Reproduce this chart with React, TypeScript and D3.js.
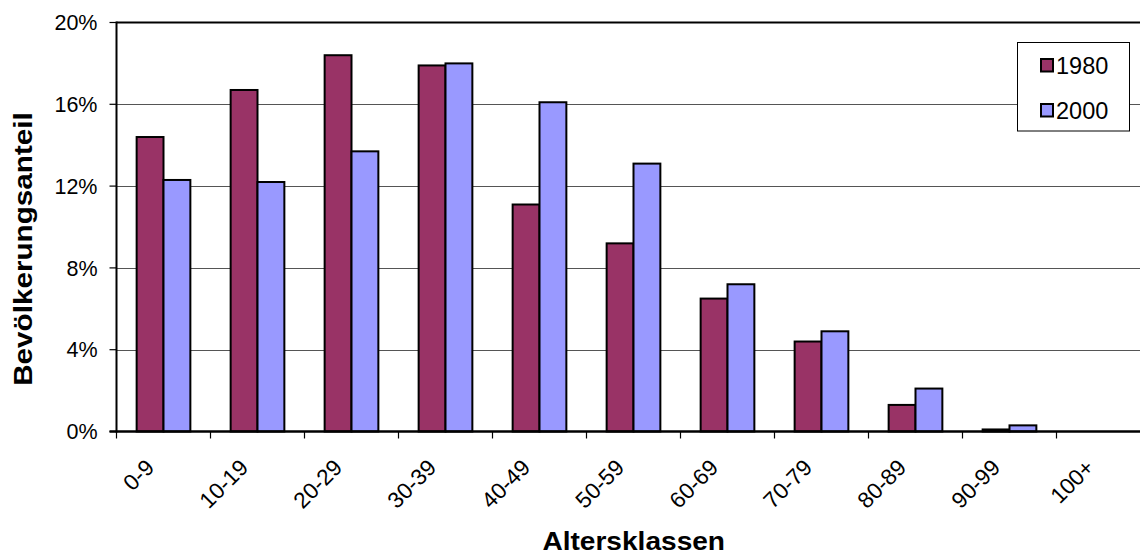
import React from "react";
import * as d3 from "d3";

const categories = ["0-9", "10-19", "20-29", "30-39", "40-49", "50-59", "60-69", "70-79", "80-89", "90-99", "100+"];
const series = ["1980", "2000"];
const values1980 = [14.4, 16.7, 18.4, 17.9, 11.1, 9.2, 6.5, 4.4, 1.3, 0.1, 0];
const values2000 = [12.3, 12.2, 13.7, 18.0, 16.1, 13.1, 7.2, 4.9, 2.1, 0.3, 0];
const yTicks = [0, 4, 8, 12, 16, 20];
const colors = ["#993366", "#9999FF"];
const yTitle = "Bevölkerungsanteil";
const xTitle = "Altersklassen";

const W = 1140;
const H = 554;
const left = 116.5;
const right = 1150.5;
const top = 22.5;
const bottom = 431.5;
const FONT = "'Liberation Sans', Arial, sans-serif";

export default function App() {
  const x0 = d3.scaleBand<string>().domain(categories).range([left, right]).padding(0);
  const bw = x0.bandwidth();
  const w = bw / 3.5;
  const x1 = d3.scaleBand<string>().domain(series).range([0.75 * w, 2.75 * w]).padding(0);
  const y = d3.scaleLinear().domain([0, 20]).range([bottom, top]);
  const data = [values1980, values2000];

  return (
    <svg
      width={W}
      height={H}
      style={{ position: "absolute", left: 0, top: 0, background: "#fff" }}
      fontFamily={FONT}
    >
      {/* gridlines */}
      {yTicks.filter((t) => t > 0 && t < 20).map((t) => (
        <line key={"g" + t} x1={left} x2={right} y1={Math.round(y(t)) + 0.5} y2={Math.round(y(t)) + 0.5} stroke="#555" strokeWidth={1} />
      ))}
      {/* plot border top / right */}
      <line x1={left} x2={right} y1={y(20)} y2={y(20)} stroke="#000" strokeWidth={2} />
      <line x1={right} x2={right} y1={top} y2={bottom} stroke="#000" strokeWidth={2} />

      {/* bars */}
      {series.map((s, si) =>
        categories.map((c, ci) => {
          const v = data[si][ci];
          if (v <= 0) return null;
          const bx = (x0(c) as number) + (x1(s) as number);
          return (
            <rect
              key={s + c}
              x={bx}
              y={y(v)}
              width={x1.bandwidth()}
              height={bottom - y(v)}
              fill={colors[si]}
              stroke="#000"
              strokeWidth={2}
            />
          );
        })
      )}

      {/* y axis */}
      <line x1={left} x2={left} y1={top - 1} y2={bottom + 1} stroke="#000" strokeWidth={2} />
      {yTicks.map((t) => (
        <g key={"yt" + t}>
          <line x1={left - 7} x2={left} y1={y(t)} y2={y(t)} stroke="#000" strokeWidth={1.2} />
          <text x={97.5} y={y(t)} dy="0.36em" textAnchor="end" fontSize={21.5} fill="#000">
            {t + "%"}
          </text>
        </g>
      ))}

      {/* x axis */}
      <line x1={left - 7} x2={right} y1={bottom} y2={bottom} stroke="#000" strokeWidth={2.5} />
      {d3.range(categories.length + 1).map((i) => {
        const xx = left + i * bw;
        return <line key={"xt" + i} x1={xx} x2={xx} y1={bottom} y2={bottom + 7} stroke="#000" strokeWidth={1.2} />;
      })}
      {categories.map((c) => {
        const cx = (x0(c) as number) + bw / 2;
        return (
          <text
            key={"xl" + c}
            transform={`translate(${cx - 8},469) rotate(-45)`}
            textAnchor="end"
            fontSize={22.5}
            fill="#000"
          >
            {c}
          </text>
        );
      })}

      {/* titles */}
      <text
        transform={`translate(32,249) rotate(-90) scale(1.12,1)`}
        textAnchor="middle"
        fontSize={26.5}
        fontWeight="bold"
        fill="#000"
      >
        {yTitle}
      </text>
      <text
        transform={`translate(633.7,549.5) scale(1.06,1)`}
        textAnchor="middle"
        fontSize={26.5}
        fontWeight="bold"
        fill="#000"
      >
        {xTitle}
      </text>

      {/* legend */}
      <rect x={1017.5} y={42.5} width={112} height={88.5} fill="#fff" stroke="#000" strokeWidth={1} />
      {series.map((s, si) => {
        const ly = 74 + si * 45;
        return (
          <g key={"lg" + s}>
            <rect x={1041} y={ly - 15} width={12} height={12.5} fill={colors[si]} stroke="#000" strokeWidth={2} />
            <text x={1056} y={ly} fontSize={23.5} fill="#000">
              {s}
            </text>
          </g>
        );
      })}
    </svg>
  );
}
